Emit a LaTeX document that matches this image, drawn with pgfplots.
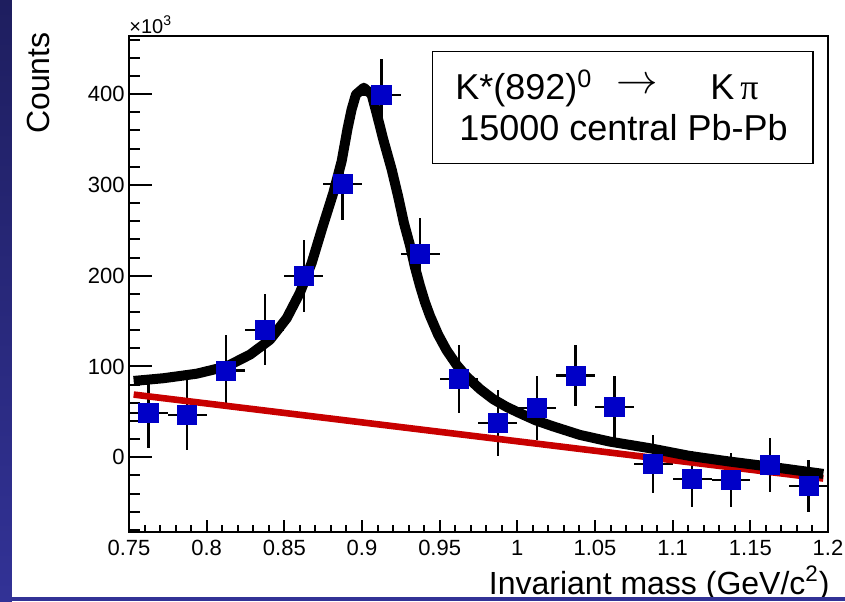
\documentclass[border=0pt]{standalone}
\usepackage{pgfplots}
\pgfplotsset{compat=1.18}
\usepackage{pgfplotstable}
\usepackage{fontspec}
\setmainfont{Liberation Sans}
\newfontfamily\seriffont{Liberation Serif}
\definecolor{markblue}{RGB}{0,0,200}
\definecolor{fitred}{RGB}{200,0,0}
\definecolor{slidetop}{RGB}{30,30,95}
\definecolor{slidebot}{RGB}{50,50,150}

\pgfplotstableread{
x       y      ex      ey
0.7625  48.5   0.0125  38
0.7875  46.6   0.0125  38.5
0.8125  95.5   0.0125  39
0.8375  140.4  0.0125  39
0.8625  200    0.0125  39.5
0.8875  301    0.0125  40
0.9125  399    0.0125  40
0.9375  223.8  0.0125  39.7
0.9625  86     0.0125  37.5
0.9875  37.5   0.0125  36.5
1.0125  54     0.0125  35
1.0375  90     0.0125  34
1.0625  55     0.0125  34
1.0875  -7.5   0.0125  32
1.1125  -24    0.0125  31
1.1375  -25    0.0125  29.5
1.1625  -8.5   0.0125  29.5
1.1875  -32    0.0125  28.5
}\datatable

\pgfplotstableread{
x       y
0.753   84
0.7721  87
0.7936  92
0.8129  100
0.8279  113
0.8407  129.3
0.8515  153
0.8600  181
0.8676  214
0.8745  253
0.8815  291
0.8869  326
0.8907  362
0.8933  383
0.8961  399.5
0.9012  407
0.9062  399.5
0.9094  379
0.9137  350
0.9191  317
0.9233  287
0.9270  258
0.9308  234
0.9340  210
0.9373  189
0.9405  171
0.9437  156
0.9490  135
0.9544  118
0.9608  102
0.9672  89
0.9760  75
0.9844  64
0.9930  55.5
1.0016  48.5
1.0120  40.5
1.0230  34
1.0402  24.6
1.0595  17.2
1.0853  9.9
1.1110  1.4
1.1367  -4.8
1.1625  -10.4
1.1970  -18.4
}\fittable

\begin{document}
\begin{tikzpicture}
\useasboundingbox (-64.5pt,-34.5pt) rectangle (358pt,266pt);
\fill[white] (-64.5pt,-34.5pt) rectangle (358pt,266pt);
\shade[top color=slidetop,bottom color=slidebot] (-64.5pt,-34.5pt) rectangle (-58.5pt,266pt);

\begin{axis}[
  at={(0pt,0pt)}, anchor=south west,
  scale only axis, width=349.5pt, height=248pt,
  xmin=0.75, xmax=1.2, ymin=-82.4, ymax=464,
  axis line style={line width=1.3pt},
  tick align=inside, tick pos=left,
  xtick=\empty,
  ytick={0,100,200,300,400},
  minor ytick={-80,-60,...,460},
  major tick length=11.5pt, minor tick length=5.5pt,
  tick style={line width=1pt, black},
  yticklabel style={font=\fontsize{11}{13}\selectfont, anchor=east, inner sep=0pt, xshift=-2pt},
  /pgf/number format/assume math mode=true,
]
\addplot[only marks, mark=square*, mark size=4.8pt,
  mark options={fill=markblue, draw=markblue, line width=0.4pt},
  error bars/.cd, x dir=both, x explicit, y dir=both, y explicit,
  error mark=none, error bar style={line width=1.1pt, black}]
  table[x=x, y=y, x error=ex, y error=ey] {\datatable};
\addplot[fitred, line width=3.3pt] coordinates {(0.753,69) (1.197,-23.5)};
\addplot[black, line width=5pt, line join=round] table[x=x, y=y] {\fittable};
\end{axis}

\begin{axis}[
  at={(0pt,0pt)}, anchor=south west,
  scale only axis, width=349.5pt, height=248pt,
  xmin=0.75, xmax=1.2, ymin=-82.4, ymax=464,
  axis line style={line width=1.3pt},
  tick align=inside, tick pos=left,
  ytick=\empty,
  xtick={0.75,0.8,0.85,0.9,0.95,1,1.05,1.1,1.15,1.2},
  xticklabels={0.75,0.8,0.85,0.9,0.95,1,1.05,1.1,1.15,1.2},
  minor xtick={0.76,0.77,0.78,0.79,0.81,0.82,0.83,0.84,0.86,0.87,0.88,0.89,0.91,0.92,0.93,0.94,0.96,0.97,0.98,0.99,1.01,1.02,1.03,1.04,1.06,1.07,1.08,1.09,1.11,1.12,1.13,1.14,1.16,1.17,1.18,1.19},
  major tick length=6pt, minor tick length=3.5pt,
  tick style={line width=1pt, black},
  xticklabel style={font=\fontsize{11}{13}\selectfont, anchor=north, inner sep=0pt, yshift=-4pt},
]
\end{axis}

\node[anchor=base west, inner sep=0pt, font=\fontsize{10}{12}\selectfont] at (0pt,249.4pt) {×10\textsuperscript{3}};
\node[rotate=90, anchor=base east, inner sep=0pt, font=\fontsize{16}{19}\selectfont] at (-39.5pt,250pt) {Counts};
\node[anchor=base east, inner sep=0pt, font=\fontsize{16}{19}\selectfont] at (350.5pt,-31.25pt) {Invariant mass (GeV/c\textsuperscript{2})};

\draw[line width=0.7pt, fill=white] (151.85pt,184.35pt) rectangle (342pt,240.15pt);
\node[anchor=base west, inner sep=0pt, font=\fontsize{18}{21}\selectfont] at (163pt,216pt) {K*(892)\textsuperscript{0}};
\node[anchor=base west, inner sep=0pt, font=\fontsize{21}{24}\selectfont] at (243.5pt,216pt) {\raisebox{3pt}{$\rightarrow$}};
\node[anchor=base west, inner sep=0pt, font=\fontsize{18}{21}\selectfont] at (290.5pt,216pt) {K\,{\seriffont π}};
\node[anchor=base west, inner sep=0pt, font=\fontsize{18}{21}\selectfont] at (165pt,196pt) {15000 central Pb-Pb};

\fill[slidebot] (-64.5pt,-34.5pt) rectangle (358pt,-32.5pt);
\end{tikzpicture}
\end{document}
